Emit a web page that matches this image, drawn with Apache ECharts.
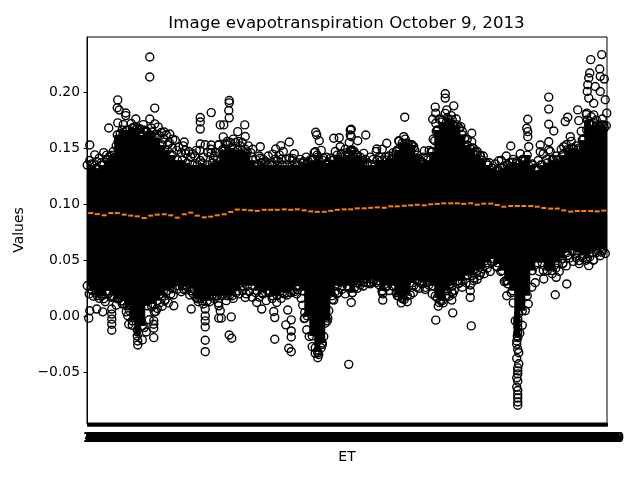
<!DOCTYPE html>
<html><head><meta charset="utf-8">
<script src="https://cdn.jsdelivr.net/npm/echarts@6/dist/echarts.min.js"></script>
<style>html,body{margin:0;padding:0;background:#fff}#c{width:640px;height:480px}</style>
</head><body><div id="c"></div>
<script>
const categoryCount = 1040;
const bandStep = 10;
const medianStep = 13.33;
const bandHigh = [.1349,.1349,.1322,.1349,.1393,.1438,.1617,.1662,.1662,.168,.168,.1617,.1644,.1644,.159,.1528,.1483,.1438,.1393,.1393,.1367,.1349,.1349,.1367,.1349,.1367,.1393,.1483,.1528,.1501,.1483,.1483,.1465,.1393,.1349,.1367,.1349,.1349,.1349,.1349,.1349,.1349,.1349,.1367,.1367,.1393,.1438,.1393,.1367,.1393,.1438,.142,.1438,.1483,.1438,.1393,.1349,.1349,.1393,.1393,.1393,.1411,.1483,.1546,.1546,.1528,.1438,.1375,.1393,.1465,.1662,.1734,.177,.1752,.1707,.1617,.1528,.1501,.1438,.1393,.1349,.1322,.1304,.1322,.1349,.1375,.1367,.1393,.1438,.1349,.1304,.1349,.1367,.1393,.1393,.1438,.1483,.1501,.1483,.1572,.1752,.1707,.1707,.1707,.1662];
const bandLow = [.0273,.0228,.0184,.0184,.0228,.0184,.0157,.0139,.0094,-.004,-.0175,-.0085,.0094,.0112,.0139,.0184,.0228,.0246,.0273,.0273,.0273,.0246,.0157,.0139,.0139,.0184,.0184,.0184,.0184,.0184,.0228,.0273,.0273,.0273,.0228,.0211,.0228,.0184,.0184,.0211,.0211,.0228,.0273,.0228,.0004,-.0175,-.0309,-.0237,-.004,.0184,.0273,.0273,.0273,.0211,.03,.0318,.0336,.0336,.0318,.0228,.0273,.0273,.0184,.0157,.0184,.03,.0318,.03,.03,.0273,.0166,.0139,.0228,.0273,.0318,.0318,.0363,.0363,.0408,.0426,.0479,.0515,.0479,.0408,.0318,.0228,-.0175,.0049,.0184,.0408,.0479,.0479,.0408,.0408,.0479,.0515,.0569,.0587,.0569,.0542,.0515,.0569,.0587,.0605,.0605];
const medians = [.0921,.0912,.0901,.0921,.0921,.0907,.0898,.0892,.0877,.0898,.0907,.091,.0901,.088,.091,.0925,.0898,.0883,.0889,.0901,.091,.0931,.0952,.095,.0945,.0941,.095,.095,.095,.0954,.095,.0954,.0945,.0936,.0932,.0932,.0941,.095,.0954,.0954,.0963,.0963,.0968,.0972,.0968,.0981,.0981,.0986,.099,.0995,.099,.0999,.1003,.1008,.1008,.1008,.1003,.1008,.0996,.1005,.1005,.0993,.0978,.0984,.0984,.0984,.0984,.0978,.0966,.0961,.0961,.0945,.0934,.0939,.0939,.0939,.0936,.0943];
const outliersUpper = [[125,.2313],[125,.2134],[61,.193],[60,.186],[64,.184],[77,.1813],[77,.179],[135,.1857],[97,.176],[125,.176],[43,.168],[61,.1725],[135,.1716],[248,.1817],[226,.1773],[226,.1733],[226,.167],[194,.1555],[5,.1528],[154,.1644],[165,.1626],[171,.158],[106,.167],[196,.148],[226,.1537],[248,.1528],[248,.1456],[262,.1528],[266,.1707],[39,.1438],[226,.139],[284,.1925],[284,.1904],[283,.1835],[284,.177],[315,.1707],[273,.1707],[301,.1647],[263,.1528],[272,.16],[316,.1604],[346,.1513],[346,.141],[404,.1555],[387,.1522],[377,.1492],[371,.1447],[411,.1409],[457,.1642],[459,.1617],[464,.1566],[493,.1588],[504,.1593],[506,.1513],[456,.1468],[526,.1662],[526,.1617],[526,.148],[528,.1668],[528,.1602],[557,.1617],[541,.1566],[635,.1776],[599,.1543],[579,.1492],[553,.1453],[529,.148],[633,.1602],[623,.1566],[653,.1513],[674,.1474],[695,.1566],[716,.1985],[716,.1946],[733,.1877],[696,.1866],[697,.1812],[719,.1841],[691,.1758],[697,.1722],[701,.1656],[747,.1692],[769,.1633],[769,.1557],[786,.1438],[603,.1429],[1029,.2334],[1007,.2289],[1025,.2206],[1005,.217],[1003,.2125],[1026,.214],[1034,.2116],[1001,.2065],[1000,.2005],[1016,.205],[1026,.2005],[1036,.1931],[1003,.1946],[1013,.19],[923,.1955],[923,.1848],[981,.1841],[983,.1745],[961,.1776],[956,.1737],[923,.1713],[933,.1653],[881,.1758],[879,.1677],[881,.1647],[881,.1602],[847,.1519],[883,.1513],[823,.1387],[906,.1528],[906,.1468],[923,.1557],[923,.1483],[1013,.1797],[999,.1812],[1039,.1812],[966,.1602],[1033,.1707],[1029,.1633],[999,.1662],[953,.1513]];
const outliersLower = [[236,-.0315],[236,-.0213],[133,-.019],[101,-.0255],[101,-.022],[133,-.0106],[133,-.007],[133,-.004],[49,-.0124],[49,-.007],[49,-.0025],[49,.002],[49,.0065],[83,-.007],[81,.0005],[31,.004],[19,.0065],[5,.005],[3,-.0016],[173,.0094],[208,.0065],[236,-.0094],[236,-.004],[236,.0004],[236,.0065],[137,.0043],[129,.0085],[263,-.0016],[263,.0094],[206,.0228],[155,.0139],[33,.0157],[73,.0112],[268,-.0016],[266,.005],[288,-.0005],[284,-.0166],[289,-.0195],[375,-.0204],[375,-.0011],[373,.0043],[349,.0065],[339,.0124],[403,-.0285],[408,-.0315],[408,-.0184],[408,-.013],[397,-.0076],[408,-.0031],[401,.0056],[435,-.0016],[435,.0034],[461,-.0369],[461,-.0324],[456,-.028],[468,-.028],[523,-.0428],[481,-.0016],[493,.0145],[379,.0124],[419,.02],[316,.0168],[499,.02],[697,-.0034],[731,.0031],[768,-.0085],[766,.0228],[766,.0168],[729,.0145],[731,.02],[591,.0145],[591,.02],[528,.0124],[631,.0168],[676,.0258],[653,.0273],[553,.0303],[566,.0303],[704,.0124],[746,.0303],[773,.0318],[861,-.0793],[861,-.0728],[861,-.0661],[861,-.0578],[861,-.0513],[861,-.0459],[863,-.0423],[863,-.0324],[859,-.0249],[861,-.019],[861,-.01],[861,-.0025],[863,.0025],[839,.0184],[837,.0318],[936,.0193],[959,.0289],[913,.0333],[938,.0348],[1003,.0452],[984,.0497],[1013,.0504],[1029,.0572],[784,.0363],[809,.0482],[819,.0444],[951,.0473],[961,.0542],[861,-.0764],[861,-.0698],[859,-.0631],[859,-.0548],[861,-.0486],[859,-.0375],[861,-.0295],[859,-.022],[861,-.0145],[861,-.006]];
const fringeUpper = [[5,.139],[15,.144],[24,.141],[33,.146],[45,.143],[52,.147],[58,.152],[66,.163],[72,.171],[88,.172],[95,.169],[112,.171],[118,.165],[128,.168],[142,.169],[148,.164],[158,.162],[164,.155],[176,.157],[183,.151],[192,.152],[203,.147],[211,.145],[218,.148],[232,.142],[241,.146],[252,.141],[258,.146],[272,.149],[280,.156],[292,.158],[302,.156],[310,.155],[322,.152],[331,.149],[344,.143],[352,.14],[362,.143],[376,.14],[384,.144],[392,.147],[405,.141],[414,.145],[426,.14],[438,.142],[447,.14],[454,.146],[468,.148],[478,.142],[486,.141],[496,.147],[508,.145],[516,.149],[524,.155],[534,.147],[546,.142],[556,.14],[566,.142],[578,.147],[590,.149],[604,.143],[612,.146],[624,.156],[636,.158],[648,.153],[662,.141],[672,.142],[684,.148],[692,.158],[704,.176],[716,.181],[728,.179],[738,.176],[750,.165],[760,.158],[772,.15],[780,.147],[792,.143],[804,.137],[816,.136],[828,.139],[838,.143],[852,.14],[866,.145],[876,.139],[890,.136],[902,.139],[912,.145],[926,.147],[938,.143],[948,.149],[958,.153],[968,.156],[978,.152],[988,.165],[998,.18],[1008,.178],[1018,.175],[1030,.176],[1038,.17]];
const fringeLower = [[4,.02],[12,.018],[24,.016],[36,.013],[48,.017],[58,.01],[70,.011],[78,.004],[90,-.008],[110,-.021],[118,-.014],[140,.007],[150,.009],[162,.012],[172,.019],[188,.022],[198,.024],[212,.02],[222,.013],[232,.011],[245,.013],[254,.016],[262,.012],[278,.014],[292,.016],[304,.02],[318,.02],[330,.017],[344,.017],[358,.014],[370,.016],[388,.016],[400,.019],[414,.022],[428,.016],[434,-.002],[444,-.018],[456,-.033],[470,-.025],[476,-.006],[490,.015],[502,.021],[516,.02],[530,.021],[540,.025],[552,.027],[566,.029],[578,.03],[590,.022],[604,.023],[618,.021],[628,.012],[640,.013],[652,.021],[664,.025],[676,.024],[690,.02],[702,.009],[712,.012],[724,.018],[734,.023],[750,.026],[766,.028],[780,.033],[794,.038],[806,.04],[820,.044],[834,.031],[848,.021],[856,-.004],[870,-.008],[882,.011],[896,.03],[912,.041],[930,.038],[944,.04],[958,.045],[972,.049],[984,.047],[998,.05],[1012,.05],[1026,.054],[1036,.056]];
const fringeUpperInner = [[9,.136],[19,.138],[28,.137],[38,.14],[48,.139],[55,.142],[62,.156],[69,.16],[80,.166],[92,.168],[104,.167],[115,.166],[123,.162],[135,.162],[145,.161],[153,.158],[161,.153],[170,.15],[179,.148],[188,.146],[197,.145],[207,.142],[215,.143],[225,.148],[236,.153],[247,.149],[255,.143],[265,.146],[276,.154],[286,.155],[297,.155],[306,.152],[316,.149],[327,.146],[337,.14],[348,.137],[357,.138],[369,.137],[380,.139],[388,.14],[398,.14],[410,.139],[420,.137],[432,.138],[442,.138],[450,.139],[461,.142],[473,.141],[482,.137],[491,.139],[502,.14],[512,.14],[520,.146],[529,.147],[540,.142],[551,.137],[561,.137],[572,.14],[584,.142],[597,.142],[608,.14],[618,.147],[630,.152],[642,.153],[655,.148],[667,.138],[678,.141],[688,.147],[698,.165],[710,.175],[722,.176],[733,.17],[744,.168],[755,.158],[766,.15],[776,.147],[786,.143],[798,.137],[810,.132],[822,.131],[833,.134],[845,.137],[859,.138],[871,.14],[883,.134],[896,.132],[907,.135],[919,.14],[932,.14],[943,.14],[953,.145],[963,.147],[973,.149],[983,.15],[993,.158],[1003,.172],[1013,.173],[1024,.17],[1034,.168]];
const fringeLowerInner = [[8,.024],[18,.021],[30,.02],[42,.02],[53,.017],[64,.016],[74,.011],[84,.005],[100,-.012],[114,-.01],[124,-.003],[134,.004],[145,.012],[156,.015],[167,.02],[180,.024],[193,.024],[205,.019],[217,.017],[227,.016],[238,.018],[249,.019],[258,.018],[270,.02],[285,.019],[298,.021],[311,.023],[324,.022],[337,.021],[351,.02],[364,.021],[379,.019],[394,.02],[407,.021],[421,.024],[431,.01],[439,-.012],[450,-.027],[463,-.034],[473,-.018],[483,.005],[496,.022],[509,.024],[523,.025],[535,.026],[546,.028],[559,.03],[572,.031],[584,.028],[597,.026],[611,.027],[623,.018],[634,.015],[646,.019],[658,.026],[670,.029],[683,.028],[696,.018],[707,.014],[718,.018],[729,.022],[742,.029],[758,.03],[773,.034],[787,.039],[800,.043],[813,.049],[827,.04],[841,.029],[852,.012],[865,-.015],[876,.005],[889,.026],[904,.04],[921,.045],[937,.043],[951,.047],[965,.052],[978,.052],[991,.052],[1005,.053],[1019,.057],[1031,.059]];
const yTicks = [-0.05,0,0.05,0.1,0.15,0.2];
const categories = Array.from({length:categoryCount},(_, i)=>String(i+1));

const band = bandHigh.map((h,i)=>[i*bandStep,bandLow[i],h]);
const edges = [];
bandHigh.forEach((h,i)=>{edges.push([i*bandStep,h]);edges.push([i*bandStep,bandLow[i]]);});
const medianPts = medians.map((m,i)=>[Math.round(7+medianStep*i),m]);
const circle = {type:'scatter',symbol:'circle',symbolSize:8,silent:true,itemStyle:{color:'rgba(0,0,0,0)',borderColor:'#000',borderWidth:1.4,opacity:1},clip:true};
const chart = echarts.init(document.getElementById('c'),null,{renderer:'canvas'});
chart.setOption({
  animation:false,
  textStyle:{fontFamily:'DejaVu Sans'},
  title:{text:'Image evapotranspiration October 9, 2013',left:341.5,top:10,textAlign:'center',textStyle:{fontSize:16.67,fontWeight:'normal',color:'#000',fontFamily:'DejaVu Sans'}},
  grid:{left:87,right:33,top:37,bottom:57,show:true,borderColor:'#000',borderWidth:1,backgroundColor:'transparent'},
  xAxis:{type:'category',data:categories,name:'ET',nameLocation:'middle',nameGap:27,
    nameTextStyle:{fontSize:13.9,color:'#000'},
    axisLine:{show:true,onZero:false,lineStyle:{color:'#000',width:1}},
    axisTick:{show:true,interval:0,alignWithLabel:true,length:3.5,lineStyle:{color:'#000',width:1}},
    axisLabel:{show:true,interval:0,hideOverlap:false,color:'#000',fontSize:13.9,margin:8},splitLine:{show:false}},
  yAxis:{type:'value',name:'Values',nameLocation:'middle',nameGap:58,min:-0.0951,max:0.2491,
    nameTextStyle:{fontSize:13.9,color:'#000'},
    axisLine:{show:true,lineStyle:{color:'#000',width:1}},
    axisTick:{show:true,length:3.5,customValues:yTicks,lineStyle:{color:'#000',width:1}},
    axisLabel:{color:'#000',fontSize:13.9,margin:7,padding:[2,0,0,0],customValues:yTicks,
      formatter:v=>v.toFixed(2).replace('-','\u2212')},splitLine:{show:false}},
  series:[
    {type:'custom',silent:true,clip:true,data:band,encode:{x:0,y:[1,2]},renderItem:(p,api)=>{
      const a=api.coord([api.value(0),api.value(2)]),b=api.coord([api.value(0),api.value(1)]);
      return {type:'rect',shape:{x:a[0]-3,y:a[1],width:6,height:b[1]-a[1]},style:{fill:'#000'}};
    },z:2},
    Object.assign({},circle,{data:edges,z:3}),
    Object.assign({},circle,{data:fringeUpper,z:3}),
    Object.assign({},circle,{data:fringeLower,z:3}),
    Object.assign({},circle,{data:fringeUpperInner,z:3}),
    Object.assign({},circle,{data:fringeLowerInner,z:3}),
    Object.assign({},circle,{data:outliersUpper,z:3}),
    Object.assign({},circle,{data:outliersLower,z:3}),
    {type:'scatter',silent:true,symbol:'rect',symbolSize:[5,2],data:medianPts,itemStyle:{color:'#ff7f0e',opacity:1},z:4}
  ]
});
</script></body></html>
